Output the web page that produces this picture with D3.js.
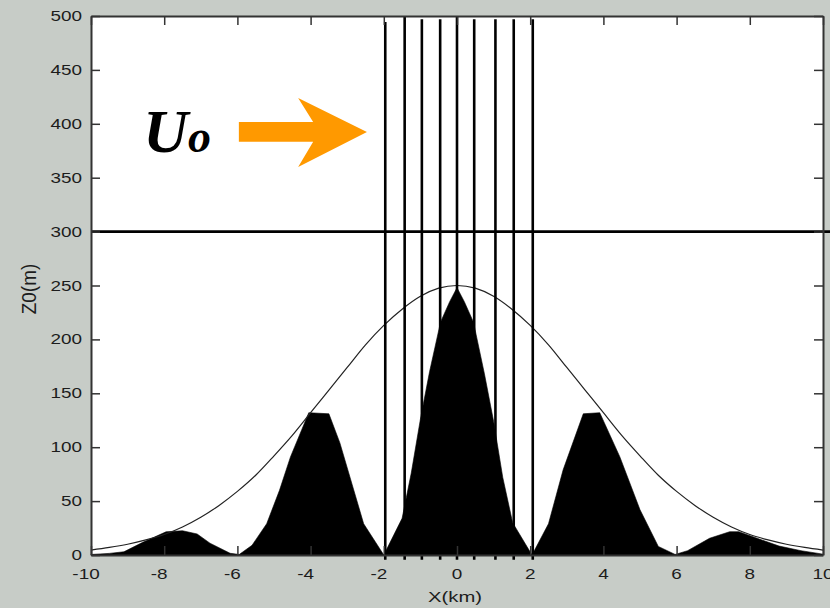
<!DOCTYPE html>
<html>
<head>
<meta charset="utf-8">
<script src="https://cdn.jsdelivr.net/npm/d3@7"></script>
<style>
  html, body { margin: 0; padding: 0; background: #c7ccc7; }
  svg { display: block; }
</style>
</head>
<body>
<svg id="chart" width="830" height="608"></svg>
<script>
// Tick values for the two axes
const xTicks = [-10, -8, -6, -4, -2, 0, 2, 4, 6, 8, 10];
const yTicks = [0, 50, 100, 150, 200, 250, 300, 350, 400, 450, 500];

// Terrain profile (km, m)
const terrainX = [-10, -9.5, -9.1, -8.6, -7.95, -7.5, -7.1, -6.75, -6.2, -5.95, -5.6, -5.2, -4.85, -4.55, -4.05, -3.5, -3.2, -2.55, -2.0,
                  -1.5, -1.25, -1.0, -0.75, -0.45, -0.2, 0, 0.2, 0.45, 0.75, 1.0, 1.25, 1.52, 2.05,
                  2.5, 2.9, 3.45, 3.9, 4.45, 5.0, 5.5, 5.96, 6.3, 6.9, 7.45, 7.7, 8.2, 8.8, 9.4, 10];
const terrainZ = [0.5, 1.5, 3, 11.5, 21.5, 22.5, 19.5, 11, 1.6, 0.5, 9, 29, 60, 91, 132, 131, 104, 29, 0,
                  34, 76, 126, 170, 216, 235, 248, 235, 216, 168, 124, 72, 30, 0,
                  29, 79, 131, 132, 91, 42, 8, 0.5, 4, 15.5, 21.6, 21.6, 15.5, 8.3, 4, 0.8];

// Envelope of the ridge heights (km, m)
const envelopeX = [-10, -9.5, -9, -8.5, -8, -7.5, -7, -6.5, -6, -5.5, -5, -4.5, -4, -3.5, -3, -2.5, -2, -1.5, -1, -0.5,
                   0, 0.5, 1, 1.5, 2, 2.5, 3, 3.5, 4, 4.5, 5, 5.5, 6, 6.5, 7, 7.5, 8, 8.5, 9, 9.5, 10];
const envelopeZ = [4.6, 7, 10, 14, 19, 26, 35, 46, 59, 74, 92, 111, 132, 153, 174, 195, 213, 228, 240, 247.5,
                   250, 247.5, 240, 228, 213, 195, 174, 153, 132, 111, 92, 74, 59, 46, 35, 26, 19, 14, 10, 7, 4.6];

// Vertical profile stations: position (km) and top height (m)
const stationX = [-1.96, -1.43, -0.96, -0.46, 0, 0.47, 1.05, 1.55, 2.07];
const stationTop = [494.5, 499.5, 497, 497, 499.5, 497, 497, 497, 497];
const stationBottom = -4.5;

// Reference level (m)
const levelZ = 300;

// Inflow arrow outline (km, m)
const arrowX = [-5.96, -3.93, -4.34, -2.46, -4.34, -3.93, -5.96];
const arrowZ = [401.7, 401.7, 423.9, 392.4, 359.9, 383.3, 383.3];

const svg = d3.select("#chart");
const plotLeft = 91, plotRight = 823, plotTop = 16, plotBottom = 555;

const x = d3.scaleLinear().domain([-10, 10]).range([plotLeft, plotRight]);
const y = d3.scaleLinear().domain([0, 500]).range([plotBottom, plotTop]);

// white plot area
svg.append("rect")
  .attr("x", plotLeft).attr("y", plotTop)
  .attr("width", plotRight - plotLeft).attr("height", plotBottom - plotTop)
  .attr("fill", "#ffffff");

// terrain
const terrain = terrainX.map((v, i) => [v, terrainZ[i]]);
svg.append("path")
  .datum(terrain)
  .attr("fill", "#000")
  .attr("stroke", "#000")
  .attr("stroke-width", 0.6)
  .attr("d", d3.area().x(d => x(d[0])).y0(y(0)).y1(d => y(d[1])));

// envelope curve
const envelope = envelopeX.map((v, i) => [v, envelopeZ[i]]);
svg.append("path")
  .datum(envelope)
  .attr("fill", "none")
  .attr("stroke", "#222")
  .attr("stroke-width", 1.2)
  .attr("d", d3.line().curve(d3.curveMonotoneX).x(d => x(d[0])).y(d => y(d[1])));

// vertical station lines
svg.append("g").selectAll("line")
  .data(stationX.map((v, i) => ({ x: v, top: stationTop[i] })))
  .join("line")
  .attr("x1", d => x(d.x)).attr("x2", d => x(d.x))
  .attr("y1", d => y(d.top)).attr("y2", y(stationBottom))
  .attr("stroke", "#000")
  .attr("stroke-width", 2.6);

// reference level line
svg.append("line")
  .attr("x1", x(-10)).attr("x2", 830)
  .attr("y1", y(levelZ)).attr("y2", y(levelZ))
  .attr("stroke", "#000")
  .attr("stroke-width", 2.6);

// axes (ticks pointing inward, labels drawn separately)
const axisColor = "#333";
function styleAxis(g) {
  g.selectAll("path").attr("stroke", axisColor).attr("stroke-width", 2);
  g.selectAll("line").attr("stroke", axisColor).attr("stroke-width", 1.5);
  g.selectAll("text").remove();
}
svg.append("g").attr("transform", `translate(0,${plotBottom})`)
  .call(d3.axisBottom(x).tickValues(xTicks).tickSizeInner(-9).tickSizeOuter(0)).call(styleAxis);
svg.append("g").attr("transform", `translate(0,${plotTop})`)
  .call(d3.axisTop(x).tickValues(xTicks).tickSizeInner(-9).tickSizeOuter(0)).call(styleAxis);
svg.append("g").attr("transform", `translate(${plotLeft},0)`)
  .call(d3.axisLeft(y).tickValues(yTicks).tickSizeInner(-9).tickSizeOuter(0)).call(styleAxis);
svg.append("g").attr("transform", `translate(${plotRight},0)`)
  .call(d3.axisRight(y).tickValues(yTicks).tickSizeInner(-9).tickSizeOuter(0)).call(styleAxis);

// tick labels (wide sans face)
const labelFont = "'Liberation Sans', Arial, sans-serif";
const stretch = 1.35;
function label(px, py, text, anchor, size) {
  svg.append("g")
    .attr("transform", `translate(${px},${py}) scale(${stretch},1)`)
    .append("text")
    .attr("text-anchor", anchor)
    .attr("font-family", labelFont)
    .attr("font-size", size)
    .attr("fill", "#1c1c1c")
    .text(text);
}
yTicks.forEach(t => label(82, y(t) + 5, String(t), "end", 14));
xTicks.forEach(t => label(x(t) + (t < 0 ? -5 : 0), 579, String(t), "middle", 14));

// axis titles
label(455, 602, "X(km)", "middle", 15);
svg.append("g")
  .attr("transform", `translate(29,289) rotate(-90) scale(${stretch},1.4)`)
  .append("text")
  .attr("text-anchor", "middle")
  .attr("dy", "0.36em")
  .attr("font-family", labelFont)
  .attr("font-size", 14)
  .attr("fill", "#1c1c1c")
  .text("Z0(m)");

// inflow arrow and label
svg.append("path")
  .datum(arrowX.map((v, i) => [x(v), y(arrowZ[i])]))
  .attr("fill", "#ff9900")
  .attr("d", d => "M" + d.join("L") + "Z");

const uo = svg.append("text")
  .attr("x", x(-8.57)).attr("y", y(373.8))
  .attr("font-family", "'Liberation Serif', 'Times New Roman', serif")
  .attr("font-weight", "bold")
  .attr("font-style", "italic")
  .attr("fill", "#000");
uo.append("tspan").attr("font-size", 62).text("U");
uo.append("tspan").attr("font-size", 46).text("o");
</script>
</body>
</html>
